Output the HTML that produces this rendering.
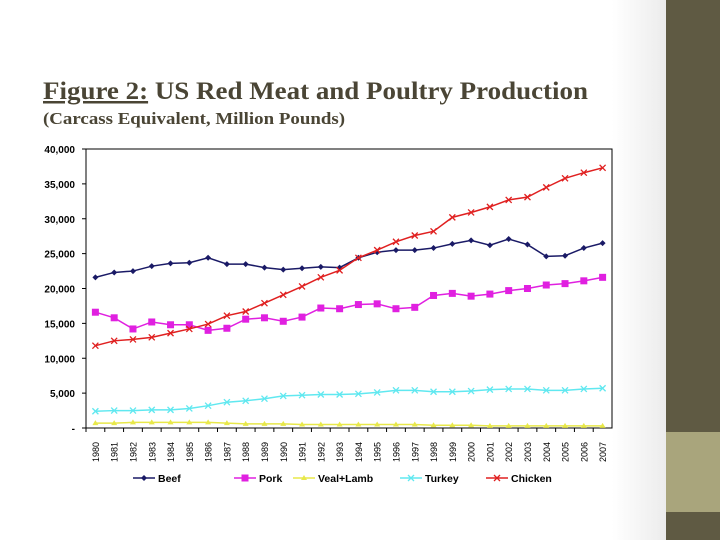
<!DOCTYPE html>
<html><head><meta charset="utf-8"><style>
html,body{margin:0;padding:0;background:#fff;}
svg{display:block;}
</style></head><body>
<svg id="chart" width="720" height="540" xmlns="http://www.w3.org/2000/svg">
<rect x="0" y="0" width="720" height="540" fill="#fff"/>
<defs><linearGradient id="sh" x1="0" x2="1"><stop offset="0" stop-color="#fff"/><stop offset="1" stop-color="#ececec"/></linearGradient></defs>
<rect x="612" y="0" width="54" height="540" fill="url(#sh)"/>
<rect x="666" y="0" width="54" height="540" fill="#5f5a43"/>
<rect x="666" y="432" width="54" height="80" fill="#a9a57c"/>
<text x="43" y="99" font-family="Liberation Serif, serif" font-weight="bold" font-size="25" fill="#4a4535" textLength="545" lengthAdjust="spacingAndGlyphs"><tspan text-decoration="underline">Figure 2:</tspan> US Red Meat and Poultry Production</text>
<text x="43" y="124" font-family="Liberation Serif, serif" font-weight="bold" font-size="17" fill="#4a4535" textLength="302" lengthAdjust="spacingAndGlyphs">(Carcass Equivalent, Million Pounds)</text>
<rect x="86" y="149" width="526" height="279" fill="#fff" stroke="#000" stroke-width="1"/>
<g id="g"></g>
</svg>
<script>
const years=[1980,1981,1982,1983,1984,1985,1986,1987,1988,1989,1990,1991,1992,1993,1994,1995,1996,1997,1998,1999,2000,2001,2002,2003,2004,2005,2006,2007];
const beef=[21.6,22.3,22.5,23.2,23.6,23.7,24.4,23.5,23.5,23.0,22.7,22.9,23.1,23.0,24.4,25.2,25.5,25.5,25.8,26.4,26.9,26.2,27.1,26.3,24.6,24.7,25.8,26.5];
const pork=[16.6,15.8,14.2,15.2,14.8,14.8,14.0,14.3,15.6,15.8,15.3,15.9,17.2,17.1,17.7,17.8,17.1,17.3,19.0,19.3,18.9,19.2,19.7,20.0,20.5,20.7,21.1,21.6];
const veal=[0.7,0.7,0.8,0.8,0.8,0.8,0.8,0.7,0.6,0.6,0.6,0.5,0.5,0.5,0.5,0.5,0.5,0.5,0.4,0.4,0.4,0.3,0.3,0.3,0.3,0.3,0.3,0.3];
const turkey=[2.4,2.5,2.5,2.6,2.6,2.8,3.2,3.7,3.9,4.2,4.6,4.7,4.8,4.8,4.9,5.1,5.4,5.4,5.2,5.2,5.3,5.5,5.6,5.6,5.4,5.4,5.6,5.7];
const chicken=[11.8,12.5,12.7,13.0,13.6,14.2,14.9,16.1,16.7,17.9,19.1,20.3,21.6,22.6,24.4,25.5,26.7,27.6,28.2,30.2,30.9,31.7,32.7,33.1,34.5,35.8,36.6,37.3];
const yTicks=[0,5,10,15,20,25,30,35,40];
const yTickLabels=["-","5,000","10,000","15,000","20,000","25,000","30,000","35,000","40,000"];
const seriesNames=["Beef","Pork","Veal+Lamb","Turkey","Chicken"];
const NS="http://www.w3.org/2000/svg";
const g=document.getElementById('g');
const L=86,R=612,T=149,B=428;
const step=(R-L)/years.length;
function x(i){return L+step*(i+0.5);}
function y(v){return B-(v/40)*(B-T);}
function el(t,a,p){const e=document.createElementNS(NS,t);for(const k in a)e.setAttribute(k,a[k]);(p||g).appendChild(e);return e;}
yTicks.forEach((v,i)=>{
  const t=el('text',{x:75,y:y(v)+4,'text-anchor':'end','font-family':'Liberation Sans, sans-serif','font-size':'10','font-weight':'bold',fill:'#000'});
  t.textContent=yTickLabels[i];
  
  
  const k=el('line',{x1:82,x2:86,y1:y(v),y2:y(v),stroke:'#000'});
  
  
});
years.forEach((yr,i)=>{
  const k=el('line',{x1:L+step*i,x2:L+step*i,y1:B,y2:B+4,stroke:'#000'});
  
  
  const tx=x(i)+3.5,ty=B+24;
  const t=el('text',{x:tx,y:ty,'text-anchor':'middle','font-family':'Liberation Sans, sans-serif','font-size':'9',fill:'#000',transform:`rotate(-90 ${tx} ${ty})`});
  t.textContent=yr;
  
  
});
const data=[beef,pork,veal,turkey,chicken];
const colors=['#1a1a66','#e020e0','#e8e84a','#60e8f0','#e02020'];
const markers=['diamond','square','tri','x','x'];
function marker(type,cx,cy,c,p){
  let m;
  if(type==='diamond')m=el('path',{d:`M${cx} ${cy-3}L${cx+3} ${cy}L${cx} ${cy+3}L${cx-3} ${cy}Z`,fill:c},p);
  else if(type==='square')m=el('rect',{x:cx-3.5,y:cy-3.5,width:7,height:7,fill:c},p);
  else if(type==='tri')m=el('path',{d:`M${cx} ${cy-3}L${cx+3} ${cy+2}L${cx-3} ${cy+2}Z`,fill:c},p);
  else m=el('path',{d:`M${cx-3} ${cy-3}L${cx+3} ${cy+3}M${cx-3} ${cy+3}L${cx+3} ${cy-3}`,stroke:c,'stroke-width':1.3},p);
  
  
}
data.forEach((s,si)=>{
  const sg=el('g',{});
  
  
  const pl=el('polyline',{points:s.map((v,i)=>x(i)+','+y(v)).join(' '),fill:'none',stroke:colors[si],'stroke-width':1.5},sg);
  
  
  s.forEach((v,i)=>marker(markers[si],x(i),y(v),colors[si],sg));
});
const lx=[133,234,293,400,486];
seriesNames.forEach((n,i)=>{
  const lg=el('g',{});
  
  
  el('line',{x1:lx[i],x2:lx[i]+22,y1:478,y2:478,stroke:colors[i],'stroke-width':1.5},lg);
  marker(markers[i],lx[i]+11,478,colors[i],lg);
  const t=el('text',{x:lx[i]+25,y:482,'font-family':'Liberation Sans, sans-serif','font-size':'10.5','font-weight':'bold',fill:'#000'},lg);
  t.textContent=n;
});
</script>
</body></html>
